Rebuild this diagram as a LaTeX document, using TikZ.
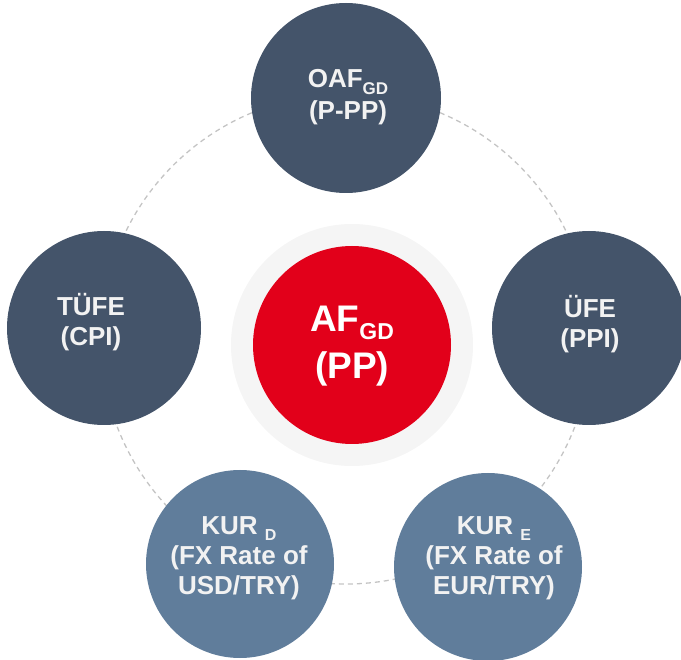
\documentclass[tikz,border=0pt]{standalone}
\usepackage{fontspec}
\setmainfont{Liberation Sans}
\definecolor{darkc}{HTML}{44546A}
\definecolor{slatec}{HTML}{607D9B}
\definecolor{redc}{HTML}{E2001A}
\definecolor{ringc}{HTML}{F5F5F5}
\definecolor{dashc}{HTML}{C4C4C4}
\definecolor{txtc}{HTML}{F2F2F2}
\newcommand\lsub[3]{\raisebox{-#2}{\fontsize{#1}{#1}\selectfont #3}}
\tikzset{
  ball/.style={circle,inner sep=0pt,draw=none},
  outertxt/.style={text=txtc,align=center,font=\bfseries\fontsize{26}{30}\selectfont},
  centertxt/.style={text=white,align=center,font=\bfseries\fontsize{37}{47}\selectfont},
}
\begin{document}
\begin{tikzpicture}[x=1pt,y=-1pt]
\useasboundingbox (0,0) rectangle (681,660);
% dashed orbit
\draw[dashc,line width=1.3pt,dash pattern=on 5pt off 4pt] (346,339) circle[radius=245];
% centre
\node[ball,fill=ringc,minimum size=242pt] (ring) at (352,345) {};
\node[ball,fill=redc,minimum size=198pt] (pp) at (352,345) {};
% outer circles
\node[ball,fill=darkc,minimum size=190pt] (ppp) at (346,98) {};
\node[ball,fill=darkc,minimum size=194pt] (cpi) at (104,328) {};
\node[ball,fill=darkc,minimum size=194pt] (ppi) at (589,328) {};
\node[ball,fill=slatec,minimum size=188pt] (usd) at (240,564) {};
\node[ball,fill=slatec,minimum size=188pt] (eur) at (488,567) {};
% texts
\node[centertxt] (pptxt) at (352,346) {AF\lsub{23}{8pt}{GD}\\(PP)};
\node[outertxt,font=\bfseries\fontsize{26}{32}\selectfont] (ppptxt) at (348,97) {OAF\lsub{17}{7pt}{GD}\\(P-PP)};
\node[outertxt] (cpitxt) at (91,322) {TÜFE\\(CPI)};
\node[outertxt] (ppitxt) at (590,324) {ÜFE\\(PPI)};
\node[outertxt] (usdtxt) at (239,558) {KUR \lsub{16}{6pt}{D}\\(FX Rate of\\USD/TRY)};
\node[outertxt] (eurtxt) at (494,558) {KUR \lsub{16}{6pt}{E}\\(FX Rate of\\EUR/TRY)};
\end{tikzpicture}
\end{document}
